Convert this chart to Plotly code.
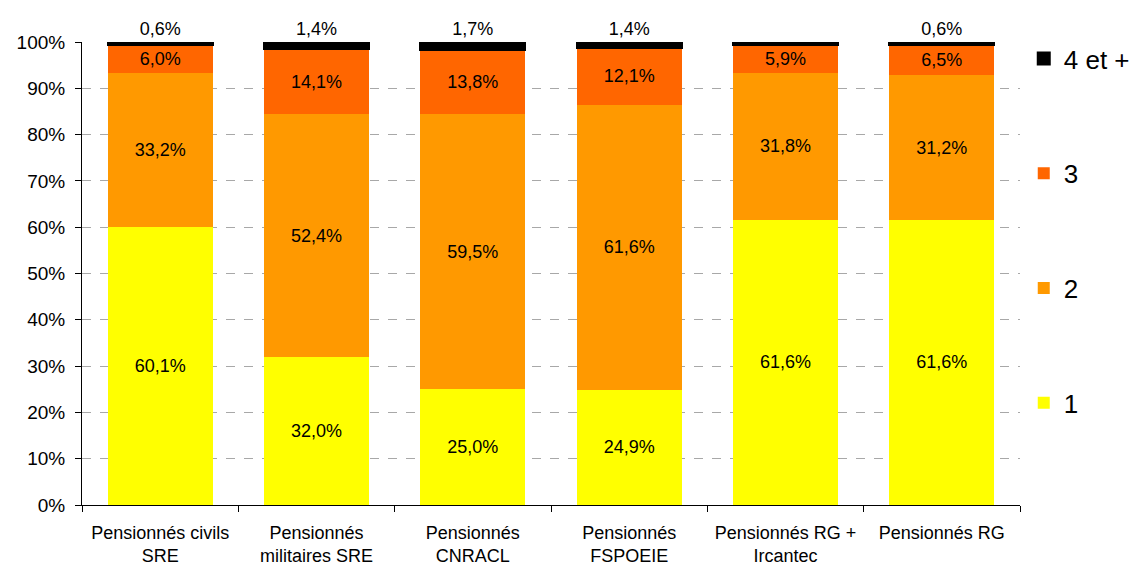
import plotly.graph_objects as go

categories = ["Pensionnés civils<br>SRE", "Pensionnés<br>militaires SRE", "Pensionnés<br>CNRACL",
              "Pensionnés<br>FSPOEIE", "Pensionnés RG +<br>Ircantec", "Pensionnés RG"]
s1 = [60.1, 32.0, 25.0, 24.9, 61.6, 61.6]
s2 = [33.2, 52.4, 59.5, 61.6, 31.8, 31.2]
s3 = [6.0, 14.1, 13.8, 12.1, 5.9, 6.5]
s4 = [0.6, 1.4, 1.7, 1.4, 0.7, 0.6]
names = ["1", "2", "3", "4 et +"]
colors = ["#FFFF00", "#FF9900", "#FF6600", "#000000"]
ticks = [0, 10, 20, 30, 40, 50, 60, 70, 80, 90, 100]
ticktext = [f"{t}%" for t in ticks]

def fmt(v):
    return f"{v:.1f}%".replace(".", ",")

FONT = "Liberation Sans, Arial"
fig = go.Figure()
for i, (name, vals, col) in enumerate(zip(names, [s1, s2, s3, s4], colors)):
    top = name == "4 et +"
    fig.add_trace(go.Bar(
        x=categories, y=vals, name=name, legendgroup=name, legendrank=10 - i,
        marker=dict(color=col, line=dict(color="#000000" if top else col, width=2 if top else 0)),
        text=[fmt(v) for v in vals],
        textposition="outside" if top else "inside",
        insidetextanchor="middle",
        textfont=dict(color="#000000", size=18, family=FONT),
        cliponaxis=False,
        width=0.67,
    ))

fig.update_layout(
    barmode="stack",
    width=1139, height=562,
    margin=dict(l=74, r=109, t=34, b=65),
    paper_bgcolor="white", plot_bgcolor="white",
    font=dict(family=FONT, size=18, color="#000000"),
    legend=dict(x=1.004, y=1.015, xanchor="left", yanchor="top",
                traceorder="grouped", tracegroupgap=78, maxheight=560,
                font=dict(size=26), itemwidth=30),
    showlegend=True,
)
fig.update_yaxes(range=[0, 100], tickvals=ticks, ticktext=ticktext,
                 showgrid=True, gridcolor="#A8A8A8", griddash="dash", gridwidth=1,
                 showline=True, linecolor="#000000", linewidth=1,
                 ticks="outside", ticklen=6, tickcolor="#000000", ticklabelstandoff=6,
                 tickfont=dict(size=19), zeroline=False, automargin=False)
fig.update_xaxes(showline=True, linecolor="#000000", linewidth=1,
                 ticks="outside", ticklen=6, tickcolor="#000000", tickson="boundaries",
                 ticklabelstandoff=11,
                 tickfont=dict(size=18), showgrid=False, automargin=False)

fig.write_html("out.html")
